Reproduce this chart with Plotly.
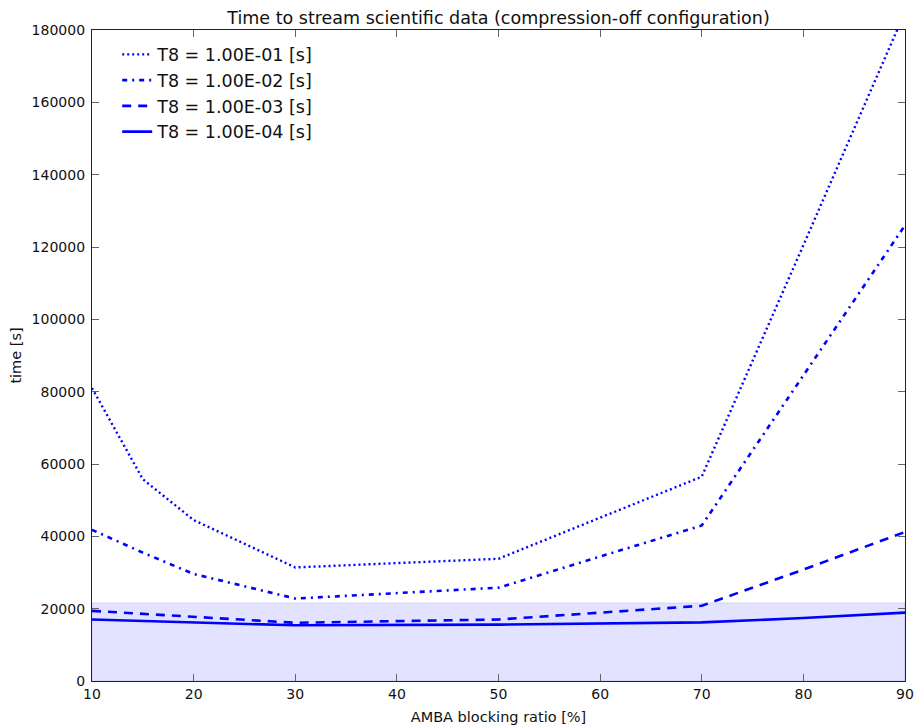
import plotly.graph_objects as go

x_ratio = [10, 15, 20, 30, 50, 70, 80, 90]
t_1e1 = [81000, 55800, 44500, 31400, 33800, 56500, 120500, 185000]
t_1e2 = [41800, 35500, 29600, 22800, 25800, 43000, 84500, 126000]
t_1e3 = [19400, 18600, 17800, 16100, 17000, 20800, 30800, 41200]
t_1e4 = [17000, 16600, 16200, 15400, 15600, 16200, 17400, 18900]
names = ["T8 = 1.00E-01 [s]", "T8 = 1.00E-02 [s]", "T8 = 1.00E-03 [s]", "T8 = 1.00E-04 [s]"]
band_top = 21600

series = [t_1e1, t_1e2, t_1e3, t_1e4]
dashes = ["2px,3px", "5px,5px,2px,5px", "9px,7px", "solid"]
widths = [2.4, 2.6, 2.6, 2.6]

fig = go.Figure()
for i, (vals, nm, ds, w) in enumerate(zip(series, names, dashes, widths)):
    fig.add_trace(go.Scatter(x=x_ratio, y=vals, mode="lines", name=nm,
                             line=dict(color="#0000ff", width=w, dash=ds)))

fig.add_shape(type="rect", xref="paper", yref="y", x0=0, x1=1, y0=0, y1=band_top,
              fillcolor="rgba(0,0,255,0.11)", line=dict(color="rgba(0,0,255,0.12)", width=1),
              layer="below")

font = "DejaVu Sans"
txt = "#111111"
axis_common = dict(showgrid=False, zeroline=False, showline=True, linecolor="#222222",
                   linewidth=1.3, mirror="allticks", ticks="inside", ticklen=7,
                   tickwidth=1, tickcolor="#666666", automargin=False,
                   tickfont=dict(family=font, size=14, color=txt))

fig.update_layout(
    width=917, height=728,
    margin=dict(l=92, r=12, t=30, b=47),
    paper_bgcolor="white", plot_bgcolor="white",
    title=dict(text="Time to stream scientific data (compression-off configuration)",
               x=(92 + 905) / 2 / 917, xanchor="center", y=1 - 18 / 728, yanchor="middle",
               yref="container", automargin=False,
               font=dict(family=font, size=17.5, color=txt)),
    xaxis=dict(range=[10, 90], tickmode="array", tickvals=list(range(10, 91, 10)),
               title=dict(text="AMBA blocking ratio [%]", font=dict(family=font, size=14.5, color=txt), standoff=10),
               **axis_common),
    yaxis=dict(range=[0, 180000], tickmode="array", tickvals=list(range(0, 180001, 20000)),
               tickformat="d", ticklabelstandoff=3,
               title=dict(text="time [s]", font=dict(family=font, size=14.5, color=txt), standoff=6),
               **axis_common),
    legend=dict(x=0.031, y=0.99, xanchor="left", yanchor="top", bgcolor="rgba(0,0,0,0)",
                borderwidth=0,
                font=dict(family=font, size=17.5, color=txt)),
    showlegend=True,
)

fig.write_html("out.html", config={"displayModeBar": False},
               post_script="document.body.style.margin='0';document.body.style.padding='0';"
                           "document.body.style.overflow='hidden';")
